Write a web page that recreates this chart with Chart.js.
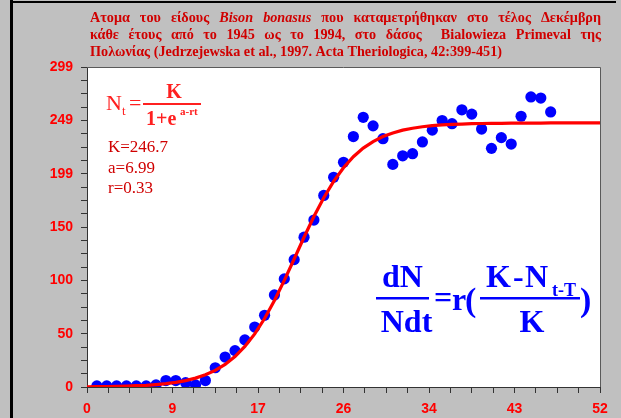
<!DOCTYPE html>
<html>
<head>
<meta charset="utf-8">
<script src="https://cdn.jsdelivr.net/npm/chart.js@4.4.1/dist/chart.umd.min.js"></script>
<style>
  html, body { margin: 0; padding: 0; background: #c0c0c0; }
  canvas { display: block; }
</style>
</head>
<body>
<canvas id="c" width="621" height="418"></canvas>
<script>
// Bison counted each December, year index t (t = 1 is 1945)
const yearIndex = [1,2,3,4,5,6,7,8,9,10,11,12,13,14,15,16,17,18,19,20,21,22,23,24,25,26,27,28,29,30,31,32,33,34,35,36,37,38,39,40,41,42,43,44,45,46,47];
const bisonCount = [1,1,1,1,1,1,2,6,6,4,2,6,18,28,34,44,56,67,86,101,119,140,156,179,196,210,234,252,244,232,208,216,218,229,240,249,246,259,255,241,223,233,227,253,271,270,257];

// Fitted logistic curve N = K / (1 + e^(a - r t)), K = 246.7, a = 6.99, r = 0.33
const fitT = [0,1,2,3,4,5,6,7,8,9,10,11,12,13,14,15,16,17,18,19,20,21,22,23,24,25,26,27,28,29,30,31,32,33,34,35,36,37,38,39,40,41,42,43,44,45,46,47,48,49,50,51,52];
const fitN = [0.2,0.3,0.4,0.6,0.8,1.2,1.6,2.3,3.1,4.3,6.0,8.3,11.4,15.5,21.1,28.4,37.9,49.6,64.0,80.8,99.6,119.6,139.9,159.3,176.9,192.2,204.9,215.2,223.2,229.3,234.0,237.4,240.0,241.8,243.2,244.2,244.9,245.4,245.7,246.0,246.2,246.3,246.4,246.5,246.6,246.6,246.6,246.7,246.7,246.7,246.7,246.7,246.7];

// Axis extents and the labels printed on the major ticks
const xMax = 52;
const yMax = 299;
const xTickLabels = ['0','9','17','26','34','43','52'];
const yTickLabels = ['0','50','100','150','199','249','299'];
const minorPerMajor = 4;

const SERIF = '"Liberation Serif", "Times New Roman", serif';
const SANS = '"Liberation Sans", Arial, sans-serif';

function evenTicks(max, majors) {
  const n = majors * minorPerMajor;
  const out = [];
  for (let i = 0; i <= n; i++) out.push({ value: i * max / n });
  return out;
}

function drawJustified(ctx, tokens, x0, x1, y) {
  const widths = tokens.map(t => { ctx.font = t.font; return ctx.measureText(t.text).width; });
  const total = widths.reduce((a, b) => a + b, 0);
  const gap = (x1 - x0 - total) / (tokens.length - 1);
  let x = x0;
  tokens.forEach((t, i) => { ctx.font = t.font; ctx.fillText(t.text, x, y); x += widths[i] + gap; });
}

function centered(ctx, text, cx, y) {
  const w = ctx.measureText(text).width;
  ctx.fillText(text, cx - w / 2, y);
}

const decorPlugin = {
  id: 'decor',
  beforeDraw(chart) {
    const { ctx, chartArea: a } = chart;
    ctx.save();
    ctx.fillStyle = '#c0c0c0';
    ctx.fillRect(0, 0, chart.width, chart.height);
    ctx.fillStyle = '#ffffff';
    ctx.fillRect(a.left, a.top, a.right - a.left, a.bottom - a.top);
    ctx.restore();
  },
  afterDraw(chart) {
    const { ctx, chartArea: a } = chart;
    ctx.save();
    // plot frame, top and right edges
    ctx.strokeStyle = '#5a5a5a';
    ctx.lineWidth = 1;
    ctx.beginPath();
    ctx.moveTo(a.left, a.top + 0.5);
    ctx.lineTo(a.right + 0.5, a.top + 0.5);
    ctx.lineTo(a.right + 0.5, a.bottom);
    ctx.stroke();

    // outer window edges
    ctx.fillStyle = '#000000';
    ctx.fillRect(10, 0, 3, chart.height);
    ctx.fillRect(10, 1, 606, 2);

    // title
    ctx.textBaseline = 'alphabetic';
    ctx.fillStyle = '#d00000';
    const tf = 'bold 14.2px ' + SERIF;
    const ti = 'italic bold 14.2px ' + SERIF;
    const words = (s, f) => s.split(' ').map(w => ({ text: w, font: f }));
    const line1 = [].concat(words('Ατομα του είδους', tf), words('Bison bonasus', ti),
                            words('που καταμετρήθηκαν στο τέλος Δεκέμβρη', tf));
    const line2 = words('κάθε έτους από το 1945 ως το 1994, στο δάσος  Bialowieza Primeval της', tf);
    drawJustified(ctx, line1, 90, 601, 22);
    drawJustified(ctx, line2, 90, 601, 39);
    ctx.font = tf;
    ctx.fillText('Πολωνίας (Jedrzejewska et al., 1997. Acta Theriologica, 42:399-451)', 90, 56);

    // logistic equation
    ctx.fillStyle = '#ff2020';
    ctx.font = '22px ' + SERIF;
    ctx.fillText('N', 106, 110);
    ctx.font = '13px ' + SERIF;
    ctx.fillText('t', 122, 115);
    ctx.font = '22px ' + SERIF;
    ctx.fillText('=', 129, 110);
    ctx.font = 'bold 20px ' + SERIF;
    centered(ctx, 'K', 174, 98);
    ctx.fillRect(143, 103, 58, 2);
    ctx.fillText('1+e', 146, 125);
    ctx.font = 'bold 11px ' + SERIF;
    ctx.fillText('a-rt', 180, 115);

    ctx.fillStyle = '#d00000';
    ctx.font = '17px ' + SERIF;
    ctx.fillText('K=246.7', 108, 152);
    ctx.fillText('a=6.99', 108, 172.5);
    ctx.fillText('r=0.33', 108, 193);

    // growth-rate equation with time lag
    ctx.fillStyle = '#0000ff';
    ctx.font = 'bold 32px ' + SERIF;
    centered(ctx, 'dN', 402.5, 287);
    ctx.fillRect(376, 297, 53, 2.5);
    centered(ctx, 'Ndt', 406.5, 332);
    ctx.fillText('=', 434, 308);
    ctx.fillText('r', 452, 310);
    ctx.font = 'bold 34px ' + SERIF;
    ctx.fillText('(', 465, 311);
    ctx.fillText(')', 580, 311);
    ctx.font = 'bold 32px ' + SERIF;
    ctx.fillText('K', 486, 287);
    ctx.fillText('-', 513, 287);
    ctx.fillText('N', 525, 287);
    ctx.font = 'bold 18px ' + SERIF;
    ctx.fillText('t-T', 552, 296);
    ctx.fillRect(480, 297, 100, 2.5);
    ctx.font = 'bold 32px ' + SERIF;
    centered(ctx, 'K', 532, 332);
    ctx.restore();
  }
};

const tickFont = { family: SANS, size: 14, weight: 'bold' };

new Chart(document.getElementById('c').getContext('2d'), {
  type: 'scatter',
  data: {
    datasets: [
      {
        type: 'line',
        label: 'logistic fit',
        data: fitT.map((t, i) => ({ x: t, y: fitN[i] })),
        borderColor: '#ff0000',
        borderWidth: 3.2,
        pointRadius: 0,
        fill: false,
        tension: 0,
        order: 0
      },
      {
        type: 'scatter',
        label: 'Bison bonasus',
        data: yearIndex.map((t, i) => ({ x: t, y: bisonCount[i] })),
        backgroundColor: '#0000ff',
        borderWidth: 0,
        pointRadius: 5.6,
        order: 1
      }
    ]
  },
  options: {
    responsive: false,
    animation: false,
    devicePixelRatio: 1,
    layout: { padding: { left: 0, top: 67, right: 21, bottom: 0 } },
    plugins: { legend: { display: false }, tooltip: { enabled: false }, title: { display: false } },
    scales: {
      x: {
        type: 'linear',
        min: 0,
        max: xMax,
        afterBuildTicks: s => { s.ticks = evenTicks(xMax, xTickLabels.length - 1); },
        afterFit: s => { s.height = 31; },
        grid: { drawOnChartArea: false, drawTicks: true, tickLength: 6, color: '#333333', lineWidth: 1 },
        border: { display: true, color: '#333333', width: 1 },
        ticks: {
          autoSkip: false, maxRotation: 0, minRotation: 0, padding: 8,
          color: '#ff0000', font: tickFont,
          callback: (v, i) => (i % minorPerMajor === 0 ? xTickLabels[i / minorPerMajor] : '')
        }
      },
      y: {
        type: 'linear',
        min: 0,
        max: yMax,
        afterBuildTicks: s => { s.ticks = evenTicks(yMax, yTickLabels.length - 1); },
        afterFit: s => { s.width = 87; },
        grid: { drawOnChartArea: false, drawTicks: true, tickLength: 6, color: '#333333', lineWidth: 1 },
        border: { display: true, color: '#333333', width: 1 },
        ticks: {
          autoSkip: false, padding: 8,
          color: '#ff0000', font: tickFont,
          callback: (v, i) => (i % minorPerMajor === 0 ? yTickLabels[i / minorPerMajor] : '')
        }
      }
    }
  },
  plugins: [decorPlugin]
});
</script>
</body>
</html>
